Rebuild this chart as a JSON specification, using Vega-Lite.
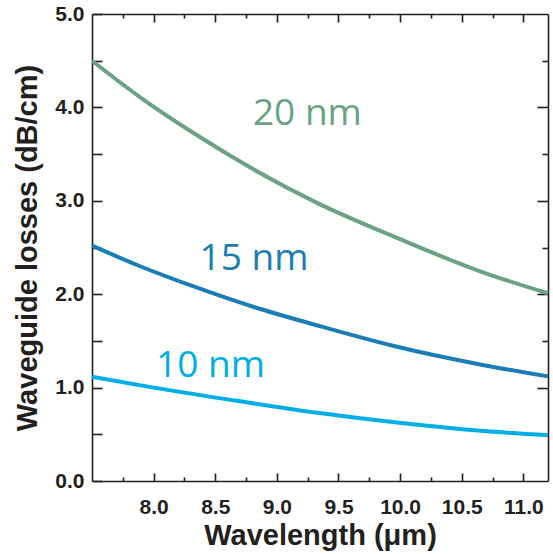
{
  "$schema": "https://vega.github.io/schema/vega-lite/v6.json",
  "width": 456,
  "height": 467,
  "autosize": {"type": "none"},
  "padding": {"left": 92, "top": 14, "right": 5, "bottom": 73},
  "background": "white",
  "config": {
    "view": {"stroke": null},
    "axis": {
      "domainColor": "#231f20",
      "domainWidth": 1.6,
      "tickColor": "#231f20",
      "tickWidth": 1.6,
      "grid": false,
      "labelFont": "Liberation Sans",
      "labelFontWeight": "bold",
      "labelFontSize": 21,
      "labelColor": "#231f20",
      "titleFont": "Liberation Sans",
      "titleFontWeight": "bold",
      "titleFontSize": 29,
      "titleColor": "#231f20"
    }
  },
  "datasets": {
    "curves": [
      {"wl": 7.5, "loss": 4.50, "series": "20 nm"},
      {"wl": 7.9, "loss": 4.10, "series": "20 nm"},
      {"wl": 8.33, "loss": 3.72, "series": "20 nm"},
      {"wl": 8.82, "loss": 3.33, "series": "20 nm"},
      {"wl": 9.33, "loss": 2.975, "series": "20 nm"},
      {"wl": 9.98, "loss": 2.60, "series": "20 nm"},
      {"wl": 10.66, "loss": 2.24, "series": "20 nm"},
      {"wl": 11.2, "loss": 2.01, "series": "20 nm"},
      {"wl": 7.5, "loss": 2.52, "series": "15 nm"},
      {"wl": 7.87, "loss": 2.31, "series": "15 nm"},
      {"wl": 8.33, "loss": 2.08, "series": "15 nm"},
      {"wl": 8.82, "loss": 1.86, "series": "15 nm"},
      {"wl": 9.33, "loss": 1.665, "series": "15 nm"},
      {"wl": 9.95, "loss": 1.445, "series": "15 nm"},
      {"wl": 10.68, "loss": 1.24, "series": "15 nm"},
      {"wl": 11.2, "loss": 1.12, "series": "15 nm"},
      {"wl": 7.5, "loss": 1.117, "series": "10 nm"},
      {"wl": 8.0, "loss": 1.0, "series": "10 nm"},
      {"wl": 8.66, "loss": 0.862, "series": "10 nm"},
      {"wl": 9.33, "loss": 0.73, "series": "10 nm"},
      {"wl": 10.01, "loss": 0.62, "series": "10 nm"},
      {"wl": 10.68, "loss": 0.535, "series": "10 nm"},
      {"wl": 11.2, "loss": 0.49, "series": "10 nm"}
    ],
    "labels": [
      {"wl": 8.806, "loss": 3.81, "series": "20 nm"},
      {"wl": 8.373, "loss": 2.26, "series": "15 nm"},
      {"wl": 8.02, "loss": 1.117, "series": "10 nm"}
    ]
  },
  "resolve": {"axis": {"x": "independent", "y": "independent"}},
  "layer": [
    {
      "data": {"name": "curves"},
      "mark": {"type": "line", "strokeWidth": 4, "interpolate": "monotone"},
      "encoding": {
        "x": {
          "field": "wl", "type": "quantitative",
          "scale": {"domain": [7.5, 11.2], "nice": false, "zero": false},
          "axis": {
            "orient": "bottom",
            "title": "Wavelength (μm)",
            "values": [7.75, 8, 8.25, 8.5, 8.75, 9, 9.25, 9.5, 9.75, 10, 10.25, 10.5, 10.75, 11],
            "tickSize": {"condition": {"test": "datum.value % 0.5 === 0", "value": -8}, "value": -4},
            "labelExpr": "datum.value % 0.5 === 0 ? format(datum.value, '.1f') : ''",
            "labelPadding": 23,
            "titlePadding": 4
          }
        },
        "y": {
          "field": "loss", "type": "quantitative",
          "scale": {"domain": [0, 5], "nice": false},
          "axis": {
            "orient": "left",
            "title": "Waveguide losses (dB/cm)",
            "values": [0, 0.5, 1, 1.5, 2, 2.5, 3, 3.5, 4, 4.5, 5],
            "tickSize": -10,
            "labelExpr": "datum.value % 1 === 0 ? format(datum.value, '.1f') : ''",
            "labelPadding": 18,
            "titlePadding": 12
          }
        },
        "color": {
          "field": "series", "type": "nominal",
          "scale": {"domain": ["20 nm", "15 nm", "10 nm"], "range": ["#6aa283", "#1a7db5", "#00aee6"]},
          "legend": null
        }
      }
    },
    {
      "data": {"name": "labels"},
      "mark": {"type": "text", "font": "Open Sans", "fontSize": 37, "align": "left", "baseline": "alphabetic"},
      "encoding": {
        "x": {
          "field": "wl", "type": "quantitative",
          "axis": {
            "orient": "top", "title": null, "labels": false,
            "values": [7.75, 8, 8.25, 8.5, 8.75, 9, 9.25, 9.5, 9.75, 10, 10.25, 10.5, 10.75, 11],
            "tickSize": {"condition": {"test": "datum.value % 0.5 === 0", "value": -8}, "value": -4}
          }
        },
        "y": {
          "field": "loss", "type": "quantitative",
          "axis": {
            "orient": "right", "title": null, "labels": false,
            "values": [0.5, 1, 1.5, 2, 2.5, 3, 3.5, 4, 4.5],
            "tickSize": {"condition": {"test": "datum.value % 1 === 0", "value": -11}, "value": -6}
          }
        },
        "text": {"field": "series"},
        "color": {"field": "series", "type": "nominal", "legend": null}
      }
    }
  ]
}
